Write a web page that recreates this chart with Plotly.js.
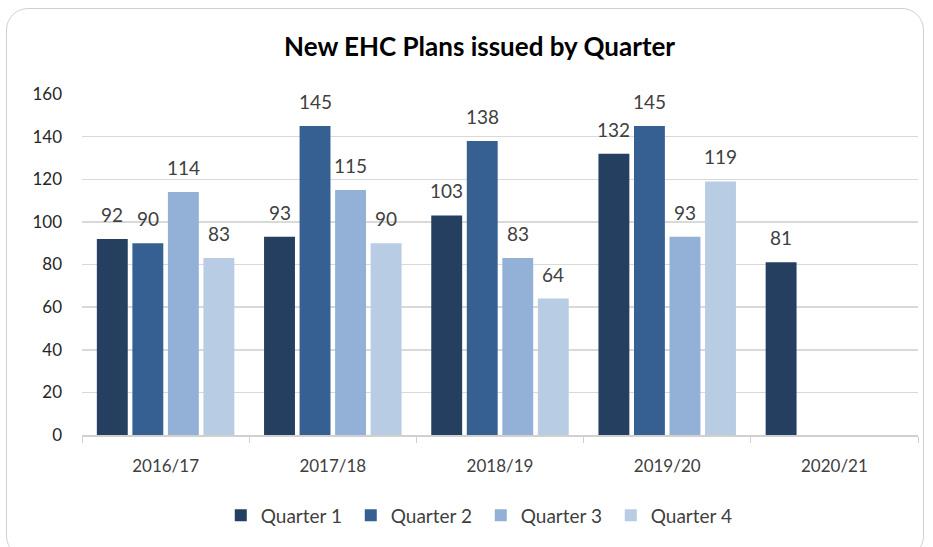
<!DOCTYPE html>
<html><head><meta charset="utf-8">
<script src="https://cdn.plot.ly/plotly-3.0.1.min.js"></script>
<style>
html,body{margin:0;padding:0;background:#fff;}
#wrap{position:relative;width:933px;height:547px;overflow:hidden;}
#chart{position:absolute;left:0;top:0;width:933px;height:547px;}
#frame{position:absolute;left:6px;top:8px;width:918px;height:550px;border:1.5px solid #d0d0d0;border-radius:22px;pointer-events:none;box-sizing:border-box;}
</style></head>
<body><div id="wrap"><div id="chart"></div><div id="frame"></div></div>
<script>
const categories = ['2016/17','2017/18','2018/19','2019/20','2020/21'];
const seriesNames = ['Quarter 1','Quarter 2','Quarter 3','Quarter 4'];
const q1 = [92, 93, 103, 132, 81];
const q2 = [90, 145, 138, 145, null];
const q3 = [114, 115, 83, 93, null];
const q4 = [83, 90, 64, 119, null];
const yTicks = [0,20,40,60,80,100,120,140,160];
const colors = ['#253F61','#376092','#93B1D7','#B8CCE4'];
const values = [q1,q2,q3,q4];
const font = 'Lato, "Open Sans", sans-serif';
const bargap = 0.15;

const traces = values.map((v,i)=>({
  type:'bar', name:seriesNames[i], x:categories, y:v, marker:{color:colors[i]},
  hoverinfo:'skip'
}));

// data labels placed above each bar using the axis scales
const annotations = [];
values.forEach((v,i)=>{
  const off = (i-1.5)*(1-bargap)/4;
  v.forEach((d,j)=>{
    if(d==null) return;
    annotations.push({x:j+off, y:d, xref:'x', yref:'y', text:String(d), showarrow:false,
      yanchor:'bottom', yshift:11, font:{family:font,size:19,color:'#404040'}});
  });
});

const layout = {
  width:933, height:547,
  margin:{l:82,r:15,t:94,b:110},
  paper_bgcolor:'rgba(0,0,0,0)', plot_bgcolor:'#fff',
  barmode:'group', bargap:bargap, bargroupgap:0.13,
  title:{text:'<b>New EHC Plans issued by Quarter</b>', x:0.514, xanchor:'center', y:0.914, yanchor:'middle', font:{family:font,size:26,color:'#000'}},
  xaxis:{type:'category', tickson:'boundaries', ticks:'outside', ticklen:6, tickcolor:'#d0d0d0',
    showline:true, linecolor:'#d0d0d0', linewidth:1.5, ticklabelstandoff:15,
    tickfont:{family:font,size:17,color:'#404040'}},
  yaxis:{range:[0,160], tickvals:yTicks, showgrid:true, gridcolor:'#d9d9d9', gridwidth:1.5,
    zeroline:false, showline:false, ticks:'', ticklabelstandoff:19,
    tickfont:{family:font,size:17,color:'#262626'}},
  legend:{orientation:'h', x:0.477, xanchor:'center', y:-0.236, yanchor:'middle',
    font:{family:font,size:19,color:'#404040'}, entrywidth:85, entrywidthmode:'pixels',
    itemwidth:30, traceorder:'normal'},
  annotations:annotations,
  showlegend:true
};
Plotly.newPlot('chart', traces, layout, {displayModeBar:false, staticPlot:true});
</script></body></html>
